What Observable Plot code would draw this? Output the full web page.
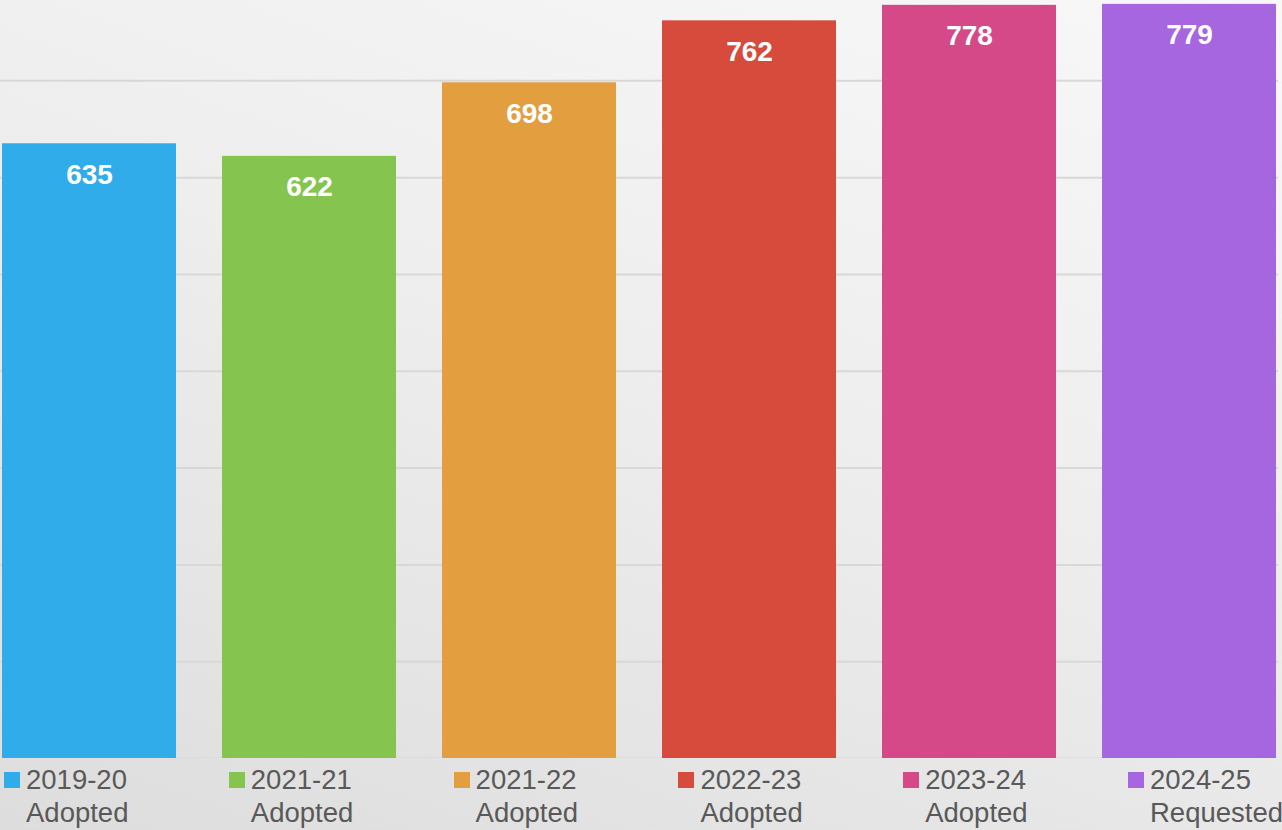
<!DOCTYPE html>
<html>
<head>
<meta charset="utf-8">
<script src="https://cdn.jsdelivr.net/npm/d3@7"></script>
<script src="https://cdn.jsdelivr.net/npm/@observablehq/plot@0.6"></script>
<style>
  html, body { margin: 0; padding: 0; }
  body {
    width: 1282px; height: 830px; overflow: hidden; position: relative;
    background: linear-gradient(200deg, #f8f8f8 0%, #eeeeee 45%, #dddddd 100%);
    font-family: "Liberation Sans", Arial, sans-serif;
  }
  #chart { position: absolute; left: 0; top: 0; }
  #legend { position: absolute; left: 0; top: 758px; width: 1282px; height: 72px; }
  .item { position: absolute; top: 0; }
  .sw { position: absolute; left: 0; top: 14px; width: 16px; height: 16px; }
  .lab { position: absolute; left: 22px; top: 5px; font-size: 27.5px; line-height: 33px; color: #595959; white-space: nowrap; }
</style>
</head>
<body>
<div id="chart"></div>
<div id="legend"></div>
<script>
const years = ["2019-20", "2021-21", "2021-22", "2022-23", "2023-24", "2024-25"];
const statuses = ["Adopted", "Adopted", "Adopted", "Adopted", "Adopted", "Requested"];
const values = [635, 622, 698, 762, 778, 779];
const colors = ["#31ACEB", "#84C44F", "#E39E40", "#D64B3B", "#D64988", "#A566E0"];
const gridTicks = [100, 200, 300, 400, 500, 600, 700];

const data = years.map((y, i) => ({year: y, status: statuses[i], value: values[i]}));

const chart = Plot.plot({
  width: 1282,
  height: 758,
  marginTop: 0,
  marginBottom: 0,
  marginLeft: 0,
  marginRight: 4,
  style: {background: "transparent", fontFamily: "Liberation Sans, Arial, sans-serif"},
  x: {domain: years, paddingInner: 0.209, paddingOuter: 0.009, axis: null},
  y: {domain: [0, 783], axis: null},
  color: {domain: years, range: colors},
  marks: [
    Plot.ruleY(gridTicks, {stroke: "#d8d8d8", strokeWidth: 2}),
    Plot.ruleY([0], {stroke: "#d6d6d6", strokeWidth: 2}),
    Plot.barY(data, {x: "year", y: "value", fill: "year"}),
    Plot.text(data, {
      x: "year", y: "value", text: d => String(d.value),
      dy: 31, lineAnchor: "middle", fill: "white",
      fontSize: 28, fontWeight: "bold"
    })
  ]
});
document.getElementById("chart").appendChild(chart);

const legend = document.getElementById("legend");
years.forEach((y, i) => {
  const item = document.createElement("div");
  item.className = "item";
  item.style.left = (4 + 224.8 * i) + "px";
  const sw = document.createElement("div");
  sw.className = "sw";
  sw.style.background = colors[i];
  const lab = document.createElement("div");
  lab.className = "lab";
  lab.innerHTML = y + "<br>" + statuses[i];
  item.appendChild(sw);
  item.appendChild(lab);
  legend.appendChild(item);
});
</script>
</body>
</html>
